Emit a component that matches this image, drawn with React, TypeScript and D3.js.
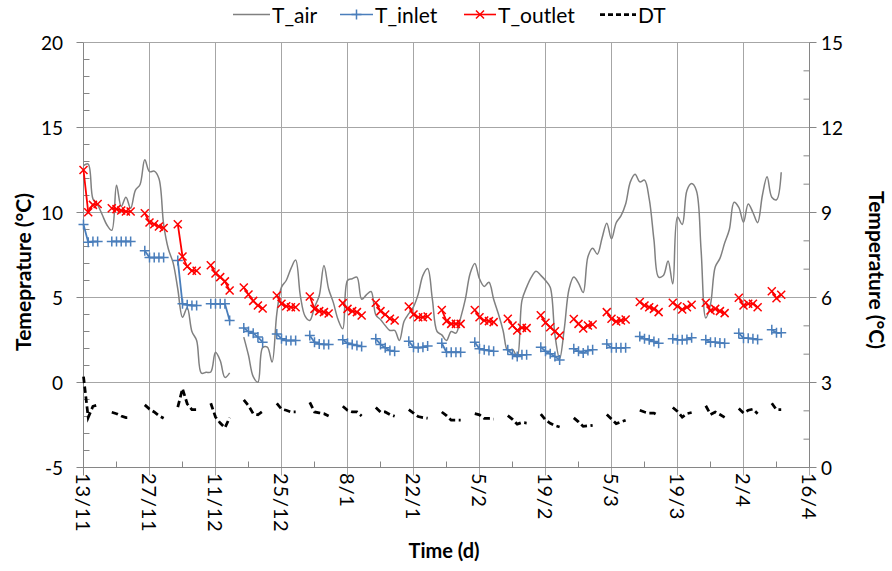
import React from "react";
import * as d3 from "d3";

// Date axis: days counted from 13 Nov, major ticks every two weeks
const DAY_TICKS = [0, 14, 28, 42, 56, 70, 84, 98, 112, 126, 140, 154];
const DAY_TICK_LABELS = ["13/11", "27/11", "11/12", "25/12", "8/1", "22/1", "5/2", "19/2", "5/3", "19/3", "2/4", "16/4"];
const DAY_MINOR_TICKS = [7, 21, 35, 49, 63, 77, 91, 105, 119, 133, 147];

const LEFT_TICKS = [-5, 0, 5, 10, 15, 20];
const RIGHT_TICKS = [0, 3, 6, 9, 12, 15];

// Daily air temperature (index = day), null where no record
const T_AIR: (number | null)[] = [
  12.76, 12.85, 10.8, 10.45, 9.85, 9.25, 8.95, 11.6, 10.35, 10.9,
  10.25, 11.3, 11.65, 13.1, 12.4, 12.43, 12.0, 9.3, 7.85, 7.05,
  5.5, 3.84, 4.4, 3.0, 2.47, 0.55, 0.6, 0.62, 1.78, 1.29,
  0.3, 0.57, null, null, 2.67, 1.6, 0.35, 0.02, 2.05, 2.08,
  1.2, 4.04, 5.61, 6.0, 6.7, 7.2, 5.1, 3.9, 3.65, 4.43,
  5.1, 6.88, 5.5, 4.7, 3.7, 3.16, 6.0, 6.1, 6.2, 4.9,
  5.15, 5.35, 3.98, 3.7, 3.35, 3.06, 3.06, 2.47, 3.6, 4.05,
  4.45, 5.2, 6.3, 6.7, 4.9, 3.0, 2.8, 2.47, 3.0, 2.9,
  3.8, 4.9, 6.4, 7.0, 6.1, 5.65, 5.9, 4.9, 4.04, 3.06,
  1.85, 1.95, 1.5, 4.82, 5.61, 6.2, 6.55, 6.3, 6.0, 5.6,
  2.8, 1.4, 3.2, 5.5, 6.2, 5.85, 5.3, 7.4, 7.9, 7.55,
  8.5, 9.37, 8.45, 9.4, 9.8, 10.5, 11.8, 12.25, 11.8, 11.9,
  10.8, 8.4, 6.2, 6.29, 7.15, 5.8, 9.73, 9.3, 11.3, 11.7,
  11.3, 7.8, 3.8, 4.6, 6.8, 7.3, 8.2, 9.0, 10.6, 10.3,
  9.43, 10.5, 10.0, 9.4, 11.0, 12.1, 10.9, 10.75, 12.37,
];

// Working-day samples of the water circuit
const SAMPLE_DAYS = [
  0, 1, 2, 3,
  6, 7, 8, 9, 10,
  13, 14, 15, 16, 17,
  20, 21, 22, 23, 24,
  27, 28, 29, 30, 31,
  34, 35, 36, 37, 38,
  41, 42, 43, 44, 45,
  48, 49, 50, 51, 52,
  55, 56, 57, 58, 59,
  62, 63, 64, 65, 66,
  69, 70, 71, 72, 73,
  76, 77, 78, 79, 80,
  83, 84, 85, 86, 87,
  90, 91, 92, 93, 94,
  97, 98, 99, 100, 101,
  104, 105, 106, 107, 108,
  111, 112, 113, 114, 115,
  118, 119, 120, 121, 122,
  125, 126, 127, 128, 129,
  132, 133, 134, 135, 136,
  139, 140, 141, 142, 143,
  146, 147, 148,
];

const T_INLET = [
  9.29, 8.25, 8.29, 8.29,
  8.3, 8.3, 8.3, 8.3, 8.3,
  7.75, 7.35, 7.35, 7.35, 7.35,
  7.18, 4.63, 4.57, 4.53, 4.53,
  4.63, 4.63, 4.63, 4.63, 3.65,
  3.2, 3.0, 2.9, 2.67, 2.37,
  2.86, 2.57, 2.47, 2.47, 2.47,
  2.76, 2.37, 2.27, 2.24, 2.24,
  2.51, 2.31, 2.24, 2.18, 2.12,
  2.57, 2.24, 2.04, 1.88, 1.84,
  2.43, 2.08, 2.04, 2.08, 2.14,
  2.31, 1.78, 1.78, 1.78, 1.78,
  2.37, 1.98, 1.92, 1.88, 1.84,
  1.92, 1.65, 1.53, 1.63, 1.63,
  2.08, 1.84, 1.69, 1.53, 1.33,
  1.98, 1.84, 1.73, 1.88, 1.92,
  2.27, 2.04, 2.04, 2.04, 2.04,
  2.71, 2.57, 2.51, 2.41, 2.31,
  2.57, 2.51, 2.51, 2.53, 2.63,
  2.51, 2.37, 2.37, 2.33, 2.31,
  2.9, 2.61, 2.61, 2.57, 2.53,
  3.1, 2.92, 2.92,
];

const T_OUTLET = [
  12.5, 10.02, 10.45, 10.5,
  10.25, 10.2, 10.12, 10.06, 10.06,
  9.96, 9.41, 9.31, 9.18, 9.09,
  9.31, 7.41, 6.82, 6.57, 6.57,
  6.9, 6.41, 6.2, 5.95, 5.41,
  5.59, 5.18, 4.8, 4.53, 4.35,
  5.12, 4.63, 4.49, 4.43, 4.43,
  5.06, 4.33, 4.2, 4.14, 4.06,
  4.67, 4.33, 4.2, 4.14, 3.94,
  4.69, 4.2, 4.0, 3.75, 3.65,
  4.47, 4.0, 3.84, 3.84, 3.88,
  4.27, 3.61, 3.45, 3.45, 3.45,
  4.27, 3.84, 3.65, 3.61, 3.55,
  3.75, 3.35, 3.06, 3.22, 3.2,
  3.96, 3.52, 3.25, 3.01, 2.76,
  3.73, 3.45, 3.18, 3.35, 3.41,
  4.14, 3.75, 3.59, 3.65, 3.71,
  4.73, 4.53, 4.43, 4.33, 4.14,
  4.69, 4.49, 4.29, 4.43, 4.57,
  4.69, 4.24, 4.33, 4.2, 4.08,
  4.98, 4.53, 4.63, 4.63, 4.43,
  5.37, 4.96, 5.16,
];

// Outlet minus inlet, plotted against the right-hand axis
const DT = [
  3.21, 1.77, 2.16, 2.21,
  1.95, 1.9, 1.82, 1.76, 1.76,
  2.21, 2.06, 1.96, 1.83, 1.74,
  2.13, 2.78, 2.25, 2.04, 2.04,
  2.27, 1.78, 1.57, 1.4, 1.76,
  2.39, 2.18, 1.9, 1.86, 1.98,
  2.26, 2.06, 2.02, 1.96, 1.96,
  2.3, 1.96, 1.93, 1.9, 1.82,
  2.16, 2.02, 1.96, 1.96, 1.82,
  2.12, 1.96, 1.96, 1.87, 1.81,
  2.04, 1.92, 1.8, 1.76, 1.74,
  1.96, 1.83, 1.67, 1.67, 1.67,
  1.9, 1.86, 1.73, 1.73, 1.71,
  1.83, 1.7, 1.53, 1.59, 1.57,
  1.88, 1.68, 1.56, 1.48, 1.43,
  1.75, 1.61, 1.45, 1.47, 1.49,
  1.87, 1.71, 1.55, 1.61, 1.67,
  2.02, 1.96, 1.92, 1.92, 1.83,
  2.12, 1.98, 1.78, 1.9, 1.94,
  2.18, 1.87, 1.96, 1.87, 1.77,
  2.08, 1.92, 2.02, 2.06, 1.9,
  2.27, 2.04, 2.04,
];

const LEGEND = [
  { key: "T_air", color: "#808080", marker: "none", dash: null },
  { key: "T_inlet", color: "#4a7ebb", marker: "plus", dash: null },
  { key: "T_outlet", color: "#ff0000", marker: "cross", dash: null },
  { key: "DT", color: "#000000", marker: "none", dash: "5,3" },
];

const FONT = "Lato, 'Open Sans', sans-serif";
const W = 892;
const H = 571;

const x = d3.scaleLinear().domain([0, 154]).range([83.5, 809.5]);
const yL = d3.scaleLinear().domain([-5, 20]).range([467.5, 42.5]);
const yR = d3.scaleLinear().domain([0, 15]).range([467.5, 42.5]);

type Pt = { day: number; v: number };

// Split samples into runs of consecutive days so weekends stay open
function runs(values: number[]): Pt[][] {
  const out: Pt[][] = [];
  let cur: Pt[] = [];
  SAMPLE_DAYS.forEach((day, i) => {
    if (cur.length && day - cur[cur.length - 1].day > 1) {
      out.push(cur);
      cur = [];
    }
    cur.push({ day, v: values[i] });
  });
  if (cur.length) out.push(cur);
  return out;
}

const plusPath = (cx: number, cy: number, r = 5) =>
  `M${cx - r},${cy}H${cx + r}M${cx},${cy - r}V${cy + r}`;
const crossPath = (cx: number, cy: number, r = 4) =>
  `M${cx - r},${cy - r}L${cx + r},${cy + r}M${cx - r},${cy + r}L${cx + r},${cy - r}`;

export default function App() {
  const airLine = d3
    .line<number | null>()
    .defined((d) => d !== null)
    .x((_, i) => x(i))
    .y((d) => yL(d as number))
    .curve(d3.curveCatmullRom.alpha(0.5));

  const segLeft = d3
    .line<Pt>()
    .x((d) => x(d.day))
    .y((d) => yL(d.v));
  const segRight = d3
    .line<Pt>()
    .x((d) => x(d.day))
    .y((d) => yR(d.v));

  const inletRuns = runs(T_INLET);
  const outletRuns = runs(T_OUTLET);
  const dtRuns = runs(DT);

  const leftMinor = d3.range(-5, 21).filter((v) => v % 5 !== 0);
  const rightMinor = d3.range(0, 16).filter((v) => v % 3 !== 0);

  const x0 = x(0);
  const x1 = x(154);
  const yTop = yL(20);
  const yBot = yL(-5);

  const legendX = [233, 340, 464, 600];
  const legendW = [37, 33, 32, 36];

  return (
    <div style={{ position: "absolute", left: 0, top: 0 }}>
      <svg width={W} height={H} style={{ display: "block", background: "#fff" }} fontFamily={FONT}>
        {/* gridlines */}
        {[0, 5, 10, 15, 20].map((v) => (
          <line key={`hg${v}`} x1={x0} x2={x1} y1={yL(v)} y2={yL(v)} stroke="#a6a6a6" strokeWidth={1} />
        ))}
        {DAY_TICKS.slice(1).map((d) => (
          <line key={`vg${d}`} x1={x(d)} x2={x(d)} y1={yTop} y2={yBot + 8} stroke="#a6a6a6" strokeWidth={1} />
        ))}

        {/* axes */}
        <line x1={x0} x2={x0} y1={yTop} y2={yBot + 8} stroke="#868686" />
        <line x1={x0} x2={x1} y1={yBot} y2={yBot} stroke="#868686" />
        <line x1={x1} x2={x1} y1={yTop} y2={yBot} stroke="#868686" />
        {LEFT_TICKS.map((v) => (
          <line key={`lt${v}`} x1={x0 - 7} x2={x0} y1={yL(v)} y2={yL(v)} stroke="#868686" />
        ))}
        {leftMinor.map((v) => (
          <line key={`lm${v}`} x1={x0} x2={x0 + 6} y1={yL(v)} y2={yL(v)} stroke="#868686" />
        ))}
        {RIGHT_TICKS.map((v) => (
          <line key={`rt${v}`} x1={x1} x2={x1 + 7} y1={yR(v)} y2={yR(v)} stroke="#868686" />
        ))}
        {rightMinor.map((v) => (
          <line key={`rm${v}`} x1={x1 - 6} x2={x1} y1={yR(v)} y2={yR(v)} stroke="#868686" />
        ))}
        {DAY_MINOR_TICKS.map((d) => (
          <line key={`bm${d}`} x1={x(d)} x2={x(d)} y1={yBot - 6} y2={yBot} stroke="#868686" />
        ))}

        {/* tick labels */}
        {LEFT_TICKS.map((v) => (
          <text key={`ll${v}`} x={63} y={yL(v)} textAnchor="end" dominantBaseline="central" fontSize={19} fill="#000">
            {v}
          </text>
        ))}
        {RIGHT_TICKS.map((v) => (
          <text key={`rl${v}`} x={821} y={yR(v)} textAnchor="start" dominantBaseline="central" fontSize={19} fill="#000">
            {v}
          </text>
        ))}
        {DAY_TICKS.map((d, i) => (
          <text
            key={`dl${d}`}
            transform={`translate(${x(d) + 0.5},473) rotate(90)`}
            textAnchor="start"
            dominantBaseline="central"
            fontSize={20}
            letterSpacing={0.8}
            fill="#000"
          >
            {DAY_TICK_LABELS[i]}
          </text>
        ))}

        {/* axis titles */}
        <text x={444} y={550} textAnchor="middle" dominantBaseline="central" fontSize={20} fontWeight="bold">
          Time (d)
        </text>
        <text
          transform={`translate(22,272) rotate(-90)`}
          textAnchor="middle"
          dominantBaseline="central"
          fontSize={21}
          fontWeight="bold"
        >
          Temeprature (°C)
        </text>
        <text
          transform={`translate(877,270) rotate(90)`}
          textAnchor="middle"
          dominantBaseline="central"
          fontSize={21}
          fontWeight="bold"
        >
          Temperature (°C)
        </text>

        {/* series */}
        <path d={airLine(T_AIR) ?? ""} fill="none" stroke="#808080" strokeWidth={1.5} />

        {inletRuns.map((r, i) => (
          <g key={`in${i}`}>
            <path d={segLeft(r) ?? ""} fill="none" stroke="#4a7ebb" strokeWidth={1.8} />
            {r.map((p) => (
              <path key={p.day} d={plusPath(x(p.day), yL(p.v))} stroke="#4a7ebb" strokeWidth={1.5} fill="none" />
            ))}
          </g>
        ))}

        {outletRuns.map((r, i) => (
          <g key={`out${i}`}>
            <path d={segLeft(r) ?? ""} fill="none" stroke="#ff0000" strokeWidth={1.8} />
            {r.map((p) => (
              <path key={p.day} d={crossPath(x(p.day), yL(p.v))} stroke="#ff0000" strokeWidth={1.5} fill="none" />
            ))}
          </g>
        ))}

        {dtRuns.map((r, i) => (
          <path
            key={`dt${i}`}
            d={segRight(r) ?? ""}
            fill="none"
            stroke="#000"
            strokeWidth={2.75}
            strokeDasharray="6.5,3.5"
          />
        ))}

        {/* legend */}
        {LEGEND.map((item, i) => {
          const lx = legendX[i];
          const lw = legendW[i];
          const cy = 14.5;
          return (
            <g key={item.key}>
              <line
                x1={lx}
                x2={lx + lw}
                y1={cy}
                y2={cy}
                stroke={item.color}
                strokeWidth={item.dash ? 2.75 : 1.6}
                strokeDasharray={item.dash ?? undefined}
              />
              {item.marker === "plus" && (
                <path d={plusPath(lx + lw / 2, cy)} stroke={item.color} strokeWidth={1.5} />
              )}
              {item.marker === "cross" && (
                <path d={crossPath(lx + lw / 2, cy)} stroke={item.color} strokeWidth={1.5} />
              )}
              <text x={lx + lw + 2} y={cy} dominantBaseline="central" fontSize={21} fill="#000">
                {item.key}
              </text>
            </g>
          );
        })}
      </svg>
    </div>
  );
}
